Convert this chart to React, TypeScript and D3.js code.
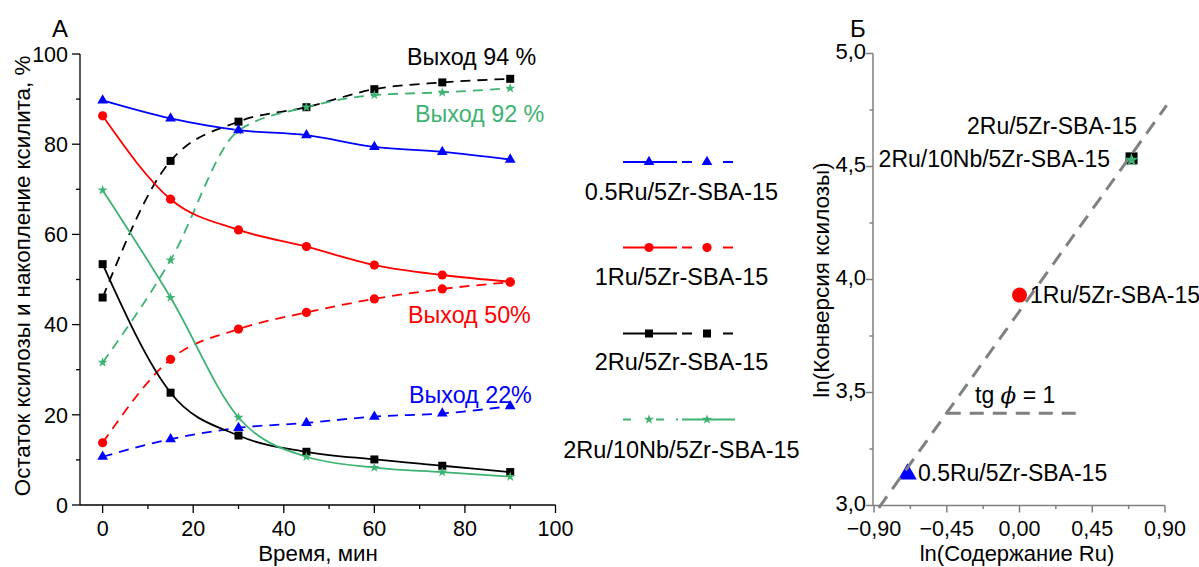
import React from "react";
import * as d3 from "d3";

// ---------- Data: panel A ----------
const times = [0, 15, 30, 45, 60, 75, 90];
const xylose05 = [89.7, 85.7, 83.1, 82.0, 79.4, 78.3, 76.6];
const xylitol05 = [10.7, 14.6, 17.1, 18.2, 19.6, 20.3, 21.9];
const xylose1 = [86.3, 67.8, 61.0, 57.3, 53.2, 51.0, 49.5];
const xylitol1 = [13.8, 32.3, 39.0, 42.7, 45.7, 47.9, 49.4];
const xylose2 = [53.4, 24.9, 15.4, 11.8, 10.1, 8.7, 7.3];
const xylitol2 = [46.0, 76.3, 85.0, 88.2, 92.2, 93.7, 94.5];
const xyloseNb = [69.8, 46.0, 19.4, 10.7, 8.3, 7.3, 6.3];
const xylitolNb = [31.6, 54.3, 83.0, 88.2, 90.9, 91.5, 92.4];

const catalysts = ["0.5Ru/5Zr-SBA-15", "1Ru/5Zr-SBA-15", "2Ru/5Zr-SBA-15", "2Ru/10Nb/5Zr-SBA-15"];
const colors = ["#0000ff", "#ff0000", "#000000", "#3cb371"];
const markers = ["triangle", "circle", "square", "star"];
const yieldLabels = ["Выход 22%", "Выход 50%", "Выход 94 %", "Выход 92 %"];

const xTicksA = [0, 20, 40, 60, 80, 100];
const yTicksA = [0, 20, 40, 60, 80, 100];

// ---------- Data: panel Б ----------
const lnRu = [-0.693, 0.0, 0.693, 0.693];
const lnConv = [3.139, 3.931, 4.536, 4.529];
const fitX = [-0.87, 0.91];
const fitY = [2.99, 4.77];
const tgX = [-0.45, 0.36];
const tgY = [3.408, 3.408];
const xTicksB = [-0.9, -0.45, 0, 0.45, 0.9];
const yTicksB = [3.0, 3.5, 4.0, 4.5, 5.0];

const FONT = "Arial, 'Liberation Sans', sans-serif";

function Marker({ type, x, y, color, big = false }: any) {
  if (type === "circle") return <circle cx={x} cy={y} r={big ? 7.5 : 4.6} fill={color} />;
  if (type === "square") {
    const s = big ? 12 : 8;
    return <rect x={x - s / 2} y={y - s / 2} width={s} height={s} fill={color} />;
  }
  const sym = type === "triangle" ? d3.symbolTriangle : d3.symbolStar;
  const size = type === "triangle" ? (big ? 150 : 50) : big ? 60 : 32;
  return <path d={d3.symbol(sym, size)() as string} transform={`translate(${x},${y})`} fill={color} />;
}

export default function App() {
  // Panel A scales
  const xA = d3.scaleLinear().domain([-5, 100]).range([80, 555.5]);
  const yA = d3.scaleLinear().domain([0, 100]).range([505, 54]);
  const line = d3
    .line<number>()
    .x((_, i) => xA(times[i]))
    .y((d) => yA(d))
    .curve(d3.curveMonotoneX);

  const xyloseSeries = [xylose05, xylose1, xylose2, xyloseNb];
  const xylitolSeries = [xylitol05, xylitol1, xylitol2, xylitolNb];

  // Panel Б scales
  const xB = d3.scaleLinear().domain([-0.9, 0.9]).range([874, 1165]);
  const yB = d3.scaleLinear().domain([3.0, 5.0]).range([505.5, 53.5]);

  const minorA = d3.range(10, 100, 20);
  const minorXB = [-0.675, -0.225, 0.225, 0.675];
  const minorYB = [3.25, 3.75, 4.25, 4.75];

  // legend rows
  const legendY = [162, 247.5, 333.5, 419.5];
  const legendLabelY = [192, 277, 362, 450];

  // yield label positions (x px, y px)
  const yieldPos = [
    [409, 395],
    [408, 315],
    [407, 57],
    [415, 114],
  ];

  const axisGrayB = "#7f7f7f";

  return (
    <svg
      width={1199}
      height={567}
      style={{ position: "absolute", left: 0, top: 0, background: "#fff" }}
      fontFamily={FONT}
    >
      <rect width={1199} height={567} fill="#fff" />
      {/* ---------- Panel A ---------- */}
      <text x={52} y={37} fontSize={24}>А</text>
      {/* axes */}
      <line x1={80} x2={80} y1={yA(100)} y2={505} stroke="#000" strokeWidth={1.3} />
      <line x1={80} x2={xA(100)} y1={505} y2={505} stroke="#000" strokeWidth={1.3} />
      {yTicksA.map((t) => (
        <g key={"ya" + t}>
          <line x1={72} x2={80} y1={yA(t)} y2={yA(t)} stroke="#000" strokeWidth={1.3} />
          <text x={68} y={yA(t)} dy="0.36em" textAnchor="end" fontSize={21.5}>{t}</text>
        </g>
      ))}
      {minorA.map((t) => (
        <line key={"yam" + t} x1={76} x2={80} y1={yA(t)} y2={yA(t)} stroke="#000" strokeWidth={1.3} />
      ))}
      {xTicksA.map((t) => (
        <g key={"xa" + t}>
          <line x1={xA(t)} x2={xA(t)} y1={505} y2={513} stroke="#000" strokeWidth={1.3} />
          <text x={xA(t)} y={536} textAnchor="middle" fontSize={21.5}>{t}</text>
        </g>
      ))}
      {minorA.map((t) => (
        <line key={"xam" + t} x1={xA(t)} x2={xA(t)} y1={505} y2={509} stroke="#000" strokeWidth={1.3} />
      ))}
      <text
        transform="translate(30,276) rotate(-90)"
        textAnchor="middle"
        fontSize={22.3}
      >
        Остаток ксилозы и накопление ксилита, %
      </text>
      <text x={318} y={561} textAnchor="middle" fontSize={22.3}>Время, мин</text>

      {/* series */}
      {xylitolSeries.map((s, k) => (
        <path key={"dl" + k} d={line(s) as string} fill="none" stroke={colors[k]} strokeWidth={1.8} strokeDasharray="10,7" />
      ))}
      {xyloseSeries.map((s, k) => (
        <path key={"sl" + k} d={line(s) as string} fill="none" stroke={colors[k]} strokeWidth={1.8} />
      ))}
      {[...xylitolSeries, ...xyloseSeries].map((s, j) =>
        s.map((v, i) => (
          <Marker key={`m${j}-${i}`} type={markers[j % 4]} x={xA(times[i])} y={yA(v)} color={colors[j % 4]} />
        ))
      )}
      {yieldLabels.map((l, k) => (
        <text key={"yl" + k} x={yieldPos[k][0]} y={yieldPos[k][1]} dy="0.36em" fontSize={23.3} fill={colors[k]}>
          {l}
        </text>
      ))}

      {/* legend */}
      {catalysts.map((c, k) => {
        const y = legendY[k];
        const col = colors[k];
        return (
          <g key={"lg" + k}>
            {k < 3 ? (
              <>
                <line x1={623} x2={677} y1={y} y2={y} stroke={col} strokeWidth={1.8} />
                <line x1={682} x2={733} y1={y} y2={y} stroke={col} strokeWidth={1.8} strokeDasharray="10,31" />
              </>
            ) : (
              <>
                <line x1={623} x2={664} y1={y} y2={y} stroke={col} strokeWidth={1.8} strokeDasharray="8,25" />
                <line x1={676} x2={678} y1={y} y2={y} stroke={col} strokeWidth={1.8} />
                <line x1={682} x2={735} y1={y} y2={y} stroke={col} strokeWidth={1.8} />
              </>
            )}
            <Marker type={markers[k]} x={649} y={y} color={col} />
            <Marker type={markers[k]} x={707} y={y} color={col} />
            <text x={681.5} y={legendLabelY[k]} dy="0.36em" textAnchor="middle" fontSize={23.5}>
              {c}
            </text>
          </g>
        );
      })}

      {/* ---------- Panel Б ---------- */}
      <text x={850} y={37} fontSize={24}>Б</text>
      <line x1={873} x2={873} y1={yB(5)} y2={yB(3)} stroke={axisGrayB} strokeWidth={1.5} />
      <line x1={873} x2={xB(0.9)} y1={yB(3)} y2={yB(3)} stroke={axisGrayB} strokeWidth={1.5} />
      {yTicksB.map((t) => (
        <g key={"yb" + t}>
          <line x1={866} x2={873} y1={yB(t)} y2={yB(t)} stroke={axisGrayB} strokeWidth={1.5} />
          <text x={866} y={yB(t) - 2} dy="0.36em" textAnchor="end" fontSize={22}>
            {d3.format(".1f")(t).replace(".", ",")}
          </text>
        </g>
      ))}
      {minorYB.map((t) => (
        <line key={"ybm" + t} x1={869.5} x2={873} y1={yB(t)} y2={yB(t)} stroke={axisGrayB} strokeWidth={1.5} />
      ))}
      {xTicksB.map((t) => (
        <g key={"xb" + t}>
          <line x1={xB(t)} x2={xB(t)} y1={yB(3)} y2={yB(3) + 7} stroke={axisGrayB} strokeWidth={1.5} />
          <text x={xB(t)} y={536} textAnchor="middle" fontSize={21.5}>
            {d3.format(".2f")(t).replace(".", ",").replace("-", "−")}
          </text>
        </g>
      ))}
      {minorXB.map((t) => (
        <line key={"xbm" + t} x1={xB(t)} x2={xB(t)} y1={yB(3)} y2={yB(3) + 3.5} stroke={axisGrayB} strokeWidth={1.5} />
      ))}
      <text transform="translate(829,280) rotate(-90)" textAnchor="middle" fontSize={22.5}>
        ln(Конверсия ксилозы)
      </text>
      <text x={1017} y={561} textAnchor="middle" fontSize={22}>ln(Содержание Ru)</text>

      {/* points under the fit line */}
      <Marker type="square" x={xB(lnRu[2])} y={yB(lnConv[2])} color="#000" big />
      <Marker type="circle" x={xB(lnRu[1])} y={yB(lnConv[1])} color="#ff0000" big />
      <Marker type="triangle" x={xB(lnRu[0])} y={yB(lnConv[0])} color="#0000ff" big />
      <line
        x1={xB(fitX[0])} y1={yB(fitY[0])} x2={xB(fitX[1])} y2={yB(fitY[1])}
        stroke="#808080" strokeWidth={3} strokeDasharray="14,9"
      />
      <line
        x1={xB(tgX[0])} y1={yB(tgY[0])} x2={xB(tgX[1])} y2={yB(tgY[1])}
        stroke="#808080" strokeWidth={3} strokeDasharray="14,9"
      />
      <Marker type="star" x={xB(lnRu[3])} y={yB(lnConv[3])} color="#3cb371" big />

      <text x={1137} y={126} dy="0.36em" textAnchor="end" fontSize={23}>2Ru/5Zr-SBA-15</text>
      <text x={1110} y={159} dy="0.36em" textAnchor="end" fontSize={23}>2Ru/10Nb/5Zr-SBA-15</text>
      <text x={1030} y={295} dy="0.36em" fontSize={23}>1Ru/5Zr-SBA-15</text>
      <text x={918} y={473} dy="0.36em" fontSize={23}>0.5Ru/5Zr-SBA-15</text>
      <text x={975} y={395} dy="0.36em" fontSize={23}>
        tg <tspan fontStyle="italic" fontFamily="'DejaVu Serif', serif">ϕ</tspan> = 1
      </text>
    </svg>
  );
}
